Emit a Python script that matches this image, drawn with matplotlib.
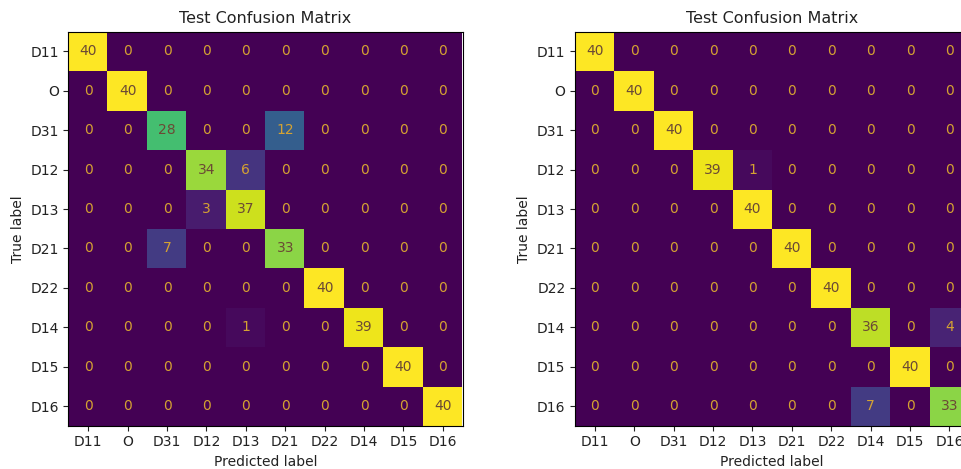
import matplotlib.pyplot as plt
import numpy as np

labels = ['D11', 'O', 'D31', 'D12', 'D13', 'D21', 'D22', 'D14', 'D15', 'D16']

cm_left = np.array([
    [40, 0, 0, 0, 0, 0, 0, 0, 0, 0],
    [0, 40, 0, 0, 0, 0, 0, 0, 0, 0],
    [0, 0, 28, 0, 0, 12, 0, 0, 0, 0],
    [0, 0, 0, 34, 6, 0, 0, 0, 0, 0],
    [0, 0, 0, 3, 37, 0, 0, 0, 0, 0],
    [0, 0, 7, 0, 0, 33, 0, 0, 0, 0],
    [0, 0, 0, 0, 0, 0, 40, 0, 0, 0],
    [0, 0, 0, 0, 1, 0, 0, 39, 0, 0],
    [0, 0, 0, 0, 0, 0, 0, 0, 40, 0],
    [0, 0, 0, 0, 0, 0, 0, 0, 0, 40],
])

cm_right = np.array([
    [40, 0, 0, 0, 0, 0, 0, 0, 0, 0],
    [0, 40, 0, 0, 0, 0, 0, 0, 0, 0],
    [0, 0, 40, 0, 0, 0, 0, 0, 0, 0],
    [0, 0, 0, 39, 1, 0, 0, 0, 0, 0],
    [0, 0, 0, 0, 40, 0, 0, 0, 0, 0],
    [0, 0, 0, 0, 0, 40, 0, 0, 0, 0],
    [0, 0, 0, 0, 0, 0, 40, 0, 0, 0],
    [0, 0, 0, 0, 0, 0, 0, 36, 0, 4],
    [0, 0, 0, 0, 0, 0, 0, 0, 40, 0],
    [0, 0, 0, 0, 0, 0, 0, 7, 0, 33],
])

W, H = 962, 469
fig = plt.figure(figsize=(W / 100, H / 100), dpi=100)


def draw_cm(ax, cm):
    ax.imshow(cm, cmap='viridis', vmin=0, vmax=40, interpolation='nearest')
    thresh = (cm.max() + cm.min()) / 2
    for i in range(cm.shape[0]):
        for j in range(cm.shape[1]):
            col = '#6b4a35' if cm[i, j] >= thresh else '#d5a232'
            ax.text(j, i, str(cm[i, j]), ha='center', va='center',
                    color=col, fontsize=10)
    ax.set_xticks(range(len(labels)))
    ax.set_xticklabels(labels)
    ax.set_yticks(range(len(labels)))
    ax.set_yticklabels(labels)
    ax.tick_params(labelsize=10, colors='#222222')
    ax.set_xlabel('Predicted label', fontsize=10, color='#222222')
    ax.set_ylabel('True label', fontsize=10, color='#222222')
    ax.set_title('Test Confusion Matrix', fontsize=11.5, color='#222222')


# axes placed in pixels (the right panel runs past the figure edge, as in the source)
bottom = (H - 425.7) / H
ax1 = fig.add_axes([68.3 / W, bottom, 394.4 / W, 394 / H])
ax2 = fig.add_axes([575 / W, bottom, 394.4 / W, 394 / H])
draw_cm(ax1, cm_left)
draw_cm(ax2, cm_right)

fig.savefig('out.png', dpi=100)
